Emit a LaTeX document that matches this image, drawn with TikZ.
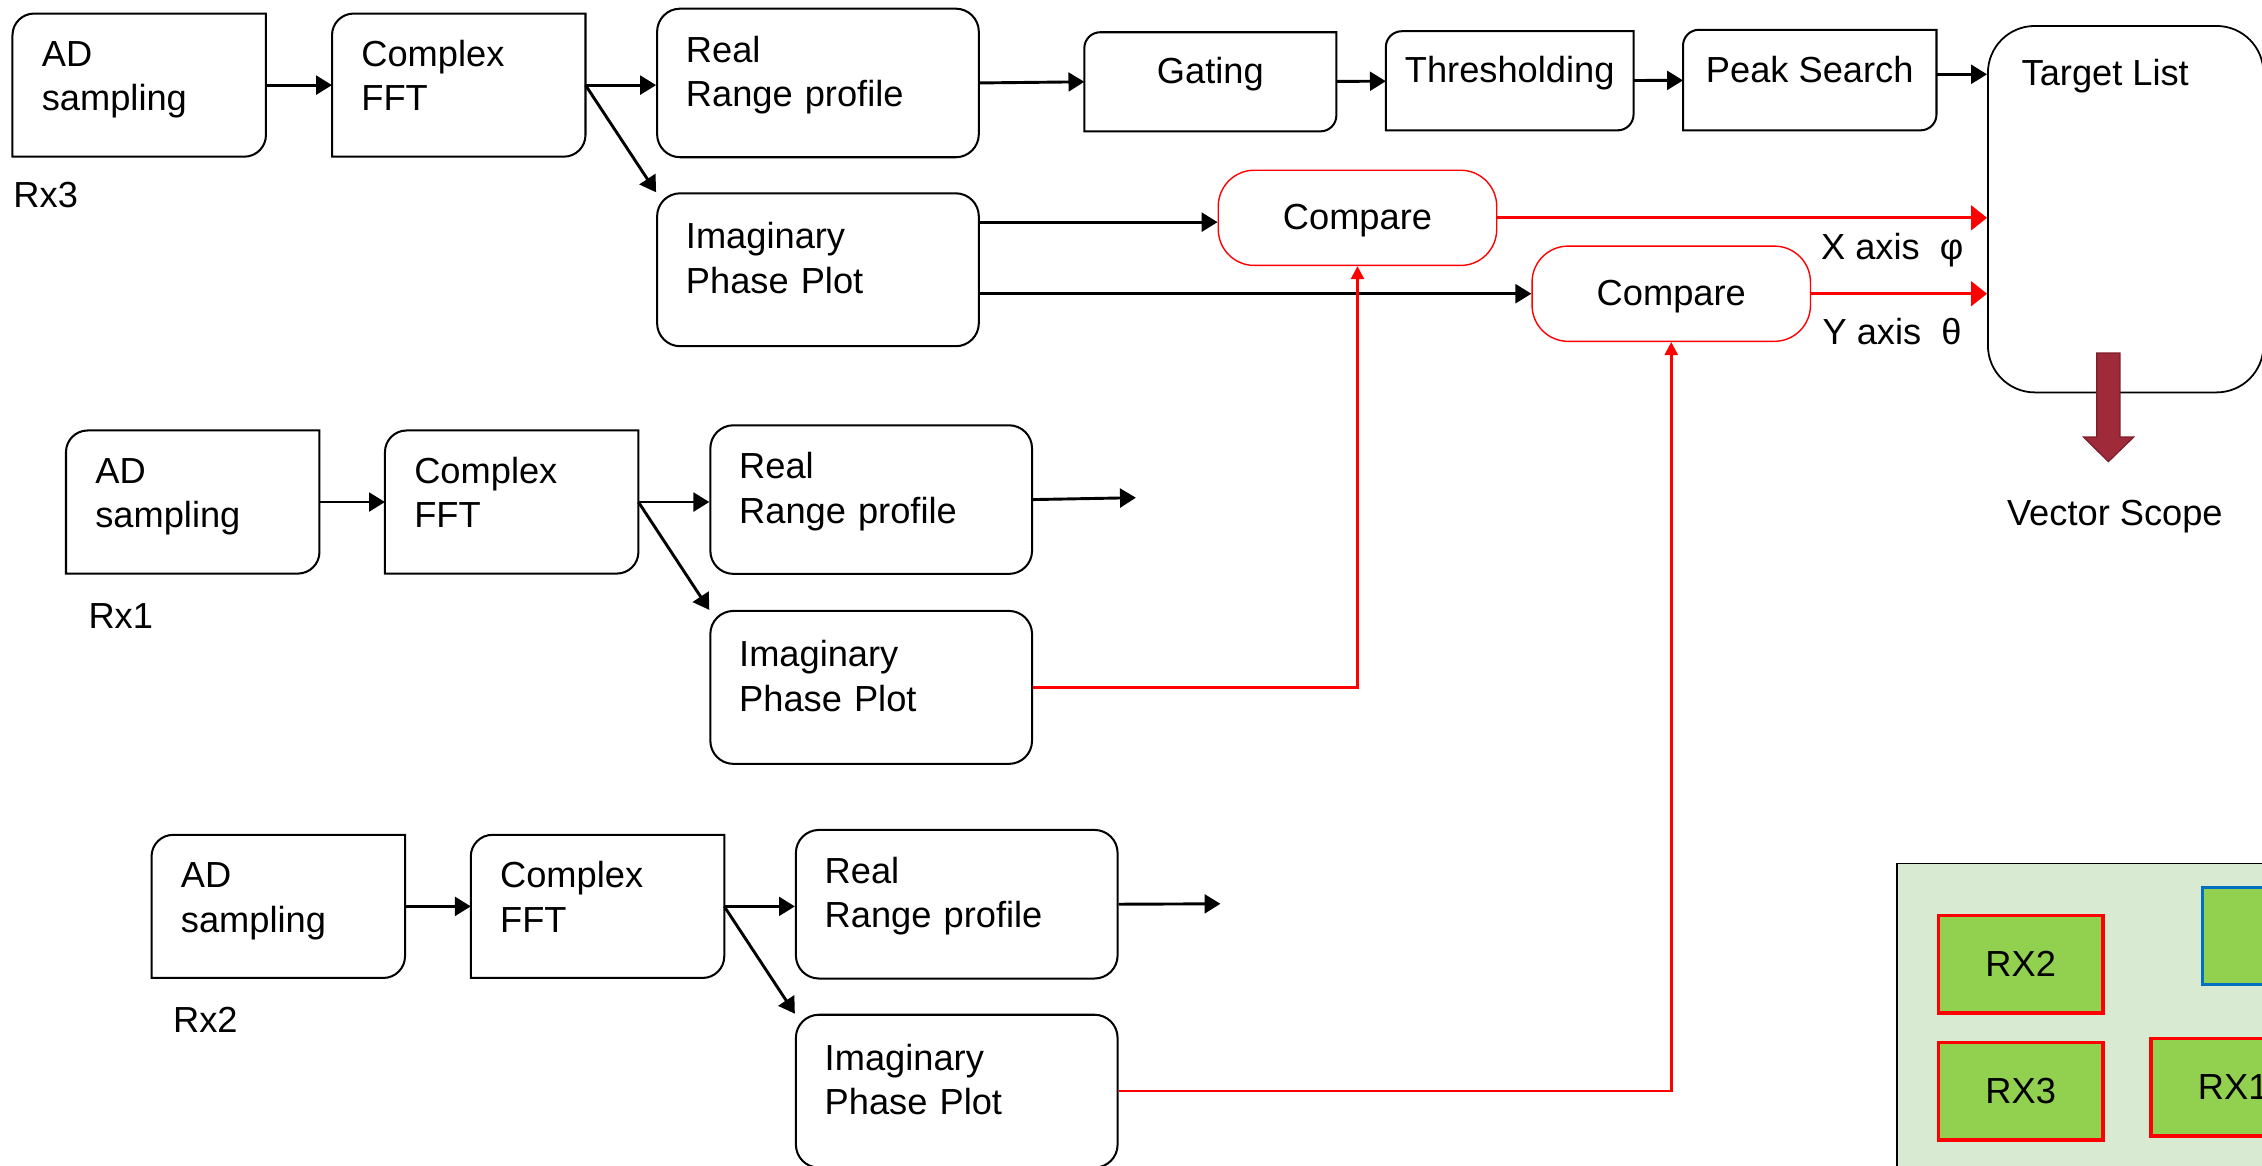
\documentclass[tikz,border=0pt]{standalone}
\usepackage{fontspec}
\setmainfont{Liberation Sans}
\usepackage{tikz}
\usetikzlibrary{arrows.meta}
\definecolor{vecred}{RGB}{158,42,58}
\definecolor{vecdark}{RGB}{125,30,44}
\definecolor{panelgreen}{RGB}{217,234,211}
\definecolor{rxgreen}{RGB}{146,208,80}
\definecolor{txblue}{RGB}{0,112,192}

\begin{document}
\begin{tikzpicture}[x=0.2mm, y=-0.2mm,
	every node/.style={font=\fontsize{14.3}{17.6}\selectfont},
	blk/.style={minimum height=19.7mm, inner xsep=4mm, text width=27mm, align=left, text height=3.6mm, text depth=8.8mm},
	prof/.style={draw, line width=0.8pt, rounded corners=3.2mm, minimum height=20.6mm, inner xsep=4mm, text width=36.6mm, align=left, text height=3.6mm, text depth=9.4mm},
	stage/.style={minimum height=13.6mm, minimum width=34.8mm, text height=3.6mm, text depth=3mm},
	cmp/.style={draw=red, line width=0.55pt, rounded corners=5mm, minimum width=38.6mm, minimum height=13.2mm, text height=3.6mm, text depth=0.4mm},
	rxbox/.style={draw=red, line width=1.3pt, fill=rxgreen, minimum width=22.8mm, minimum height=13.5mm},
	lbl/.style={anchor=base west, inner sep=0pt},
	arr/.style={-{Triangle[length=2.2mm,width=2.6mm]}, line width=1.15pt},
	redarr/.style={red, line width=1.15pt, -{Triangle[length=2.2mm,width=3.4mm]}},
	redup/.style={red, line width=1pt, -{Triangle[length=1.8mm,width=1.8mm]}}]
	\useasboundingbox (0,0) rectangle (1568,808);
	\clip (0,0) rectangle (1568,808);
	% antenna layout
	\draw[fill=panelgreen, line width=0.6pt] (1314.8,598.7) rectangle (1650,860);
	\node[rxbox] (brx2) at (1400.7,668.4) {RX2};
	\node[rxbox] (brx3) at (1400.7,756.5) {RX3};
	\node[rxbox] (brx1) at (1548,753.7) {RX1};
	\node[rxbox, draw=txblue, line width=1.1pt] (btx) at (1584,648.7) {};
	% Rx3 chain
	\node[blk] (ad3) at (96.5,59) {AD\\sampling};
	\node[blk] (fft3) at (318,59) {Complex\\FFT};
	\node[prof] (real3) at (567,57.5) {Real\\Range profile};
	\node[prof, minimum height=21.2mm] (imag3) at (567,187) {Imaginary\\Phase Plot};
	\node[lbl] (lrx3) at (9,144) {Rx3};
	% Rx1 chain
	\node[blk] (ad1) at (133.6,348) {AD\\sampling};
	\node[blk] (fft1) at (354.7,348) {Complex\\FFT};
	\node[prof] (real1) at (603.9,346.3) {Real\\Range profile};
	\node[prof, minimum height=21.2mm] (imag1) at (603.9,476.5) {Imaginary\\Phase Plot};
	\node[lbl] (lrx1) at (61,436) {Rx1};
	\coordinate (out1) at (787.4,345);
	% Rx2 chain
	\node[blk] (ad2) at (192.9,628.3) {AD\\sampling};
	\node[blk] (fft2) at (414.2,628.3) {Complex\\FFT};
	\node[prof] (real2) at (663.2,626.8) {Real\\Range profile};
	\node[prof, minimum height=21.2mm] (imag2) at (663.2,756.4) {Imaginary\\Phase Plot};
	\node[lbl] (lrx2) at (119.7,716) {Rx2};
	\coordinate (out2) at (846,626.5);
	% detection
	\node[stage] (gate) at (839,56.7) {Gating};
	\node[stage, minimum width=34.2mm] (thr) at (1046.5,56) {Thresholding};
	\node[stage, minimum width=35mm, minimum height=13.8mm] (peak) at (1254.5,55.5) {Peak Search};
	\node[draw, line width=0.7pt, rounded corners=6.5mm, minimum width=38.2mm, minimum height=50.8mm] (target) at (1473.5,145) {};
	\node[lbl] (tlist) at (1401,59.5) {Target List};
	\node[cmp] (cmp1) at (941,151) {Compare};
	\node[cmp] (cmp2) at (1158.5,203.6) {Compare};
	\node[lbl] (xlab) at (1262,180) {X axis~~φ};
	\node[lbl] (ylab) at (1263,239) {Y axis~~θ};
	\node[anchor=base, inner sep=0pt] (vscope) at (1466,364) {Vector Scope};
	% boxes with two round corners
	\foreach \n/\r in {ad3/3mm, fft3/3mm, ad1/3mm, fft1/3mm, ad2/3mm, fft2/3mm, gate/2.2mm, thr/2.2mm, peak/2.2mm}
	  \draw[line width=0.8pt] (\n.south west) -- ([yshift=-\r]\n.north west) arc[start angle=180, end angle=90, radius=\r] -- (\n.north east) -- ([yshift=\r]\n.south east) arc[start angle=0, end angle=-90, radius=\r] -- cycle;
	% connectors
	\foreach \i in {3,1,2} {
	  \draw[arr] (ad\i) -- (fft\i);
	  \draw[arr] (fft\i.east) -- (fft\i.east -| real\i.west);
	  \draw[arr] (fft\i.east) -- (imag\i.north west);
	}
	\draw[arr] (real1.east) -- (out1);
	\draw[arr] (real2.east) -- (out2);
	\draw[arr] (real3.east) -- (gate.west);
	\draw[arr] (gate) -- (thr);
	\draw[arr] (thr) -- (peak);
	\draw[arr] ([yshift=0.8mm]peak.east) -- ([yshift=0.8mm]peak.east -| target.west);
	\draw[arr] ([yshift=-0.6mm]imag3.east |- cmp1.west) -- ([yshift=-0.6mm]cmp1.west);
	\draw[arr] (imag3.east |- cmp2.west) -- (cmp2.west);
	\draw[redarr] (cmp1.east) -- (cmp1.east -| target.west);
	\draw[redarr] (cmp2.east) -- (cmp2.east -| target.west);
	\draw[redup] (imag1.east) -| (cmp1.south);
	\draw[redup] (imag2.east) -| (cmp2.south);
	% output arrow
	\filldraw[fill=vecred, draw=vecdark, line width=0.5pt] (1453.5,244.7) -- (1469.5,244.7) -- (1469.5,303) -- (1479,303) -- (1461.5,320) -- (1444.3,303) -- (1453.5,303) -- cycle;
\end{tikzpicture}
\end{document}
